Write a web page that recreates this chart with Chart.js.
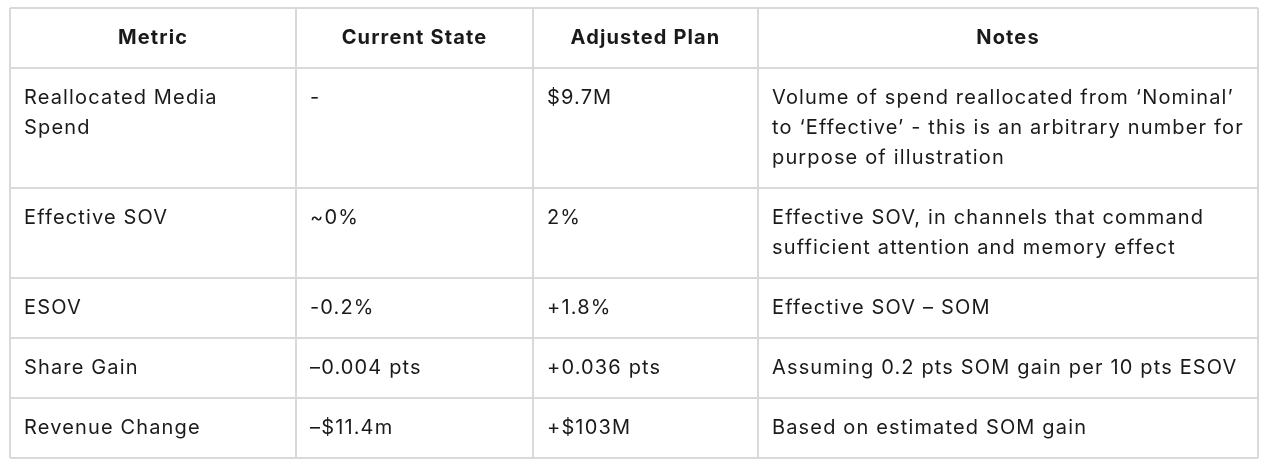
<!DOCTYPE html>
<html>
<head>
<meta charset="utf-8">
<script src="https://cdn.jsdelivr.net/npm/chart.js@4.4.1/dist/chart.umd.min.js"></script>
<style>
  html, body { margin: 0; padding: 0; background: #fff; }
  #wrap { width: 1268px; height: 468px; position: relative; }
</style>
</head>
<body>
<div id="wrap"><canvas id="tableChart"></canvas></div>
<script>
// table content
const columns = ['Metric', 'Current State', 'Adjusted Plan', 'Notes'];
const metrics = [
    ['Reallocated Media', 'Spend'],
    ['Effective SOV'],
    ['ESOV'],
    ['Share Gain'],
    ['Revenue Change']
];
const currentState = ['-', '~0%', '-0.2%', '–0.004 pts', '–$11.4m'];
const adjustedPlan = ['$9.7M', '2%', '+1.8%', '+0.036 pts', '+$103M'];
const notes = [
    ['Volume of spend reallocated from ‘Nominal’', 'to ‘Effective’ - this is an arbitrary number for', 'purpose of illustration'],
    ['Effective SOV, in channels that command', 'sufficient attention and memory effect'],
    ['Effective SOV – SOM'],
    ['Assuming 0.2 pts SOM gain per 10 pts ESOV'],
    ['Based on estimated SOM gain']
];

// layout
const colWidths = [286, 237, 225, 500];
const lineHeight = 30;
const cellPadX = 14;
const fontFamily = 'Inter, "Noto Sans", sans-serif';
const fontSize = 20;
const spacing = '1.15px';

document.addEventListener('DOMContentLoaded', function() {
    const ctx = document.getElementById('tableChart').getContext('2d');

    const bodyRows = metrics.map((m, i) => [m, [currentState[i]], [adjustedPlan[i]], notes[i]]);
    const rowHeights = [2 * lineHeight].concat(bodyRows.map(r => lineHeight + lineHeight * Math.max(...r.map(c => c.length))));

    const colEdges = [0];
    colWidths.forEach(w => colEdges.push(colEdges[colEdges.length - 1] + w));
    const rowEdges = [0];
    rowHeights.forEach(h => rowEdges.push(rowEdges[rowEdges.length - 1] + h));

    const cellText = {
        id: 'cellText',
        afterDraw(chart) {
            const x = chart.scales.x;
            const y = chart.scales.y;
            const c = chart.ctx;
            c.save();
            c.fillStyle = '#1a1a1a';
            c.textBaseline = 'middle';
            c.letterSpacing = spacing;

            // header
            c.font = '700 ' + fontSize + 'px ' + fontFamily;
            c.textAlign = 'center';
            columns.forEach((name, ci) => {
                const cx = x.getPixelForValue((colEdges[ci] + colEdges[ci + 1]) / 2);
                const cy = y.getPixelForValue((rowEdges[0] + rowEdges[1]) / 2);
                c.fillText(name, cx, cy);
            });

            // body
            c.font = '400 ' + fontSize + 'px ' + fontFamily;
            c.textAlign = 'left';
            bodyRows.forEach((row, ri) => {
                const top = rowEdges[ri + 1];
                row.forEach((lines, ci) => {
                    const px = x.getPixelForValue(colEdges[ci]) + cellPadX;
                    lines.forEach((line, li) => {
                        const py = y.getPixelForValue(top + lineHeight * (li + 1));
                        c.fillText(line, px, py);
                    });
                });
            });
            c.restore();
        }
    };

    const gridStyle = {
        color: '#d9d9d9',
        lineWidth: 2,
        drawTicks: false,
        tickLength: 0
    };

    new Chart(ctx, {
        type: 'scatter',
        data: { datasets: [{ data: [] }] },
        options: {
            responsive: true,
            maintainAspectRatio: false,
            animation: false,
            layout: { padding: { left: 10, top: 8, right: 10, bottom: 10 } },
            scales: {
                x: {
                    type: 'linear',
                    min: colEdges[0],
                    max: colEdges[colEdges.length - 1],
                    afterBuildTicks: scale => { scale.ticks = colEdges.map(v => ({ value: v })); },
                    ticks: { display: false, padding: 0 },
                    grid: gridStyle,
                    border: { display: false }
                },
                y: {
                    type: 'linear',
                    reverse: true,
                    min: rowEdges[0],
                    max: rowEdges[rowEdges.length - 1],
                    afterBuildTicks: scale => { scale.ticks = rowEdges.map(v => ({ value: v })); },
                    ticks: { display: false, padding: 0 },
                    grid: gridStyle,
                    border: { display: false }
                }
            },
            plugins: {
                legend: { display: false },
                tooltip: { enabled: false }
            }
        },
        plugins: [cellText]
    });
});
</script>
</body>
</html>
